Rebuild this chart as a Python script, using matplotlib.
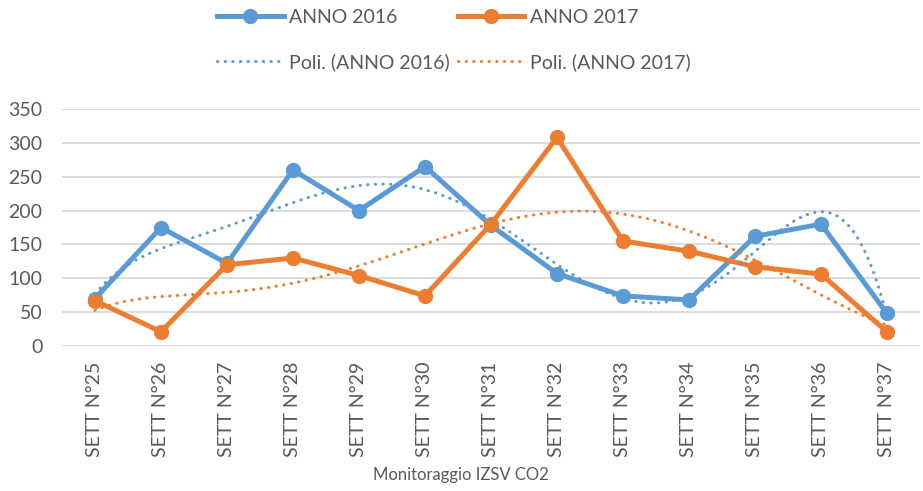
import numpy as np
import matplotlib.pyplot as plt
from matplotlib.lines import Line2D

# Weekly values
weeks = ['SETT N°25', 'SETT N°26', 'SETT N°27', 'SETT N°28', 'SETT N°29',
         'SETT N°30', 'SETT N°31', 'SETT N°32', 'SETT N°33', 'SETT N°34',
         'SETT N°35', 'SETT N°36', 'SETT N°37']
anno_2016 = [70, 175, 122, 260, 200, 265, 178, 107, 74, 68, 162, 180, 48]
anno_2017 = [67, 21, 120, 130, 104, 74, 180, 308, 155, 140, 117, 106, 21]
yticks = [0, 50, 100, 150, 200, 250, 300, 350]

blue = '#5B9BD5'
orange = '#ED7D31'
grey = '#595959'

plt.rcParams['font.family'] = ['Lato', 'DejaVu Sans']

fig = plt.figure(figsize=(9.23, 4.91), dpi=100)
ax = fig.add_axes([62 / 923, 1 - 346 / 491, (920 - 62) / 923, (346 - 109) / 491])

x = np.arange(len(weeks))

# polynomial trendlines (order 6), like Excel "Poli."
xs = np.linspace(0, len(weeks) - 1, 300)
trend16 = np.polyval(np.polyfit(x, anno_2016, 6), xs)
trend17 = np.polyval(np.polyfit(x, anno_2017, 6), xs)

dotted = (0, (0.1, 2.4))
ax.plot(x, anno_2016, color=blue, lw=3.6, marker='o', ms=10, zorder=3,
        solid_joinstyle='round')
ax.plot(x, anno_2017, color=orange, lw=3.6, marker='o', ms=10, zorder=4,
        solid_joinstyle='round')
ax.plot(xs, trend16, color=blue, lw=2.2, linestyle=dotted,
        dash_capstyle='round', zorder=5)
ax.plot(xs, trend17, color=orange, lw=2.2, linestyle=dotted,
        dash_capstyle='round', zorder=5)

ax.set_xlim(-0.5, len(weeks) - 0.5)
ax.set_ylim(0, 350)
ax.set_yticks(yticks)
ax.set_xticks(x)
ax.set_xticklabels(weeks, rotation=90)
ax.tick_params(axis='y', length=0, pad=14, labelsize=14, labelcolor=grey)
ax.tick_params(axis='x', length=0, pad=11, labelsize=14, labelcolor=grey)
ax.grid(axis='y', color='#D9D9D9', lw=1.3)
ax.set_axisbelow(True)
for s in ax.spines.values():
    s.set_visible(False)

fig.text(461 / 923, 1 - 475 / 491, 'Monitoraggio IZSV CO2', ha='center', va='center',
         fontsize=12, color=grey)

handles = [
    Line2D([], [], color=blue, lw=3.6, marker='o', ms=10),
    Line2D([], [], color=blue, lw=2.2, linestyle=dotted, dash_capstyle='round'),
    Line2D([], [], color=orange, lw=3.6, marker='o', ms=10),
    Line2D([], [], color=orange, lw=2.2, linestyle=dotted, dash_capstyle='round'),
]
labels = ['ANNO 2016', 'Poli. (ANNO 2016)', 'ANNO 2017', 'Poli. (ANNO 2017)']
fig.legend(handles, labels, ncol=2, loc='upper center', bbox_to_anchor=(454 / 923, 1.018),
           frameon=False, fontsize=14, labelcolor=grey, handlelength=3.4,
           handletextpad=0.3, columnspacing=0.4, labelspacing=1.4)

fig.savefig('out.png', dpi=100)
